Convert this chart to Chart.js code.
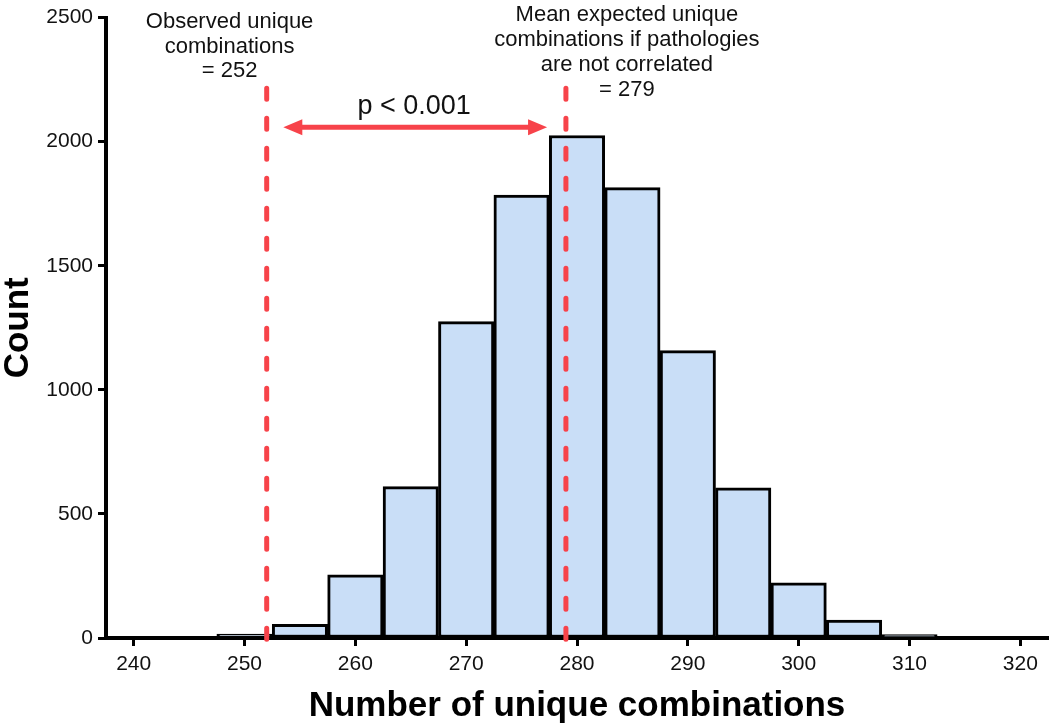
<!DOCTYPE html>
<html>
<head>
<meta charset="utf-8">
<script src="https://cdn.jsdelivr.net/npm/chart.js@4.4.1/dist/chart.umd.min.js"></script>
<style>
  html, body { margin: 0; padding: 0; background: #fff; }
  #wrap { width: 1050px; height: 728px; }
</style>
</head>
<body>
<div id="wrap"><canvas id="chart" width="1050" height="728"></canvas></div>
<script>
// Histogram bins (centre of each 5-wide bin) and counts
const binCenters = [250, 255, 260, 265, 270, 275, 280, 285, 290, 295, 300, 305, 310];
const binCounts = [16, 55, 255, 610, 1275, 1785, 2025, 1815, 1158, 605, 222, 72, 14];

// Axis ticks
const xTicks = [240, 250, 260, 270, 280, 290, 300, 310, 320];
const yTicks = [0, 500, 1000, 1500, 2000, 2500];

// Reference values and their labels
const observedValue = 252;
const expectedValue = 279;
const observedLabel = ['Observed unique', 'combinations', '= 252'];
const expectedLabel = ['Mean expected unique', 'combinations if pathologies', 'are not correlated', '= 279'];
const pLabel = 'p < 0.001';

const FONT = '"Liberation Sans", Arial, Helvetica, sans-serif';
const RED = '#f7434a';

// Draw dashed reference lines, the double arrow and the text labels
const annotations = {
    id: 'annotations',
    afterDatasetsDraw(chart) {
        const { ctx, scales: { x, y } } = chart;
        ctx.save();

        // Dashed vertical lines
        ctx.strokeStyle = RED;
        ctx.lineWidth = 5;
        ctx.lineCap = 'round';
        ctx.setLineDash([11, 19]);
        [observedValue, expectedValue].forEach(v => {
            const px = x.getPixelForValue(v);
            ctx.beginPath();
            ctx.moveTo(px, y.getPixelForValue(2215));
            ctx.lineTo(px, y.getPixelForValue(-30));
            ctx.stroke();
        });

        // Double-headed arrow
        ctx.setLineDash([]);
        ctx.lineCap = 'butt';
        const ay = y.getPixelForValue(2058);
        const x1 = x.getPixelForValue(253.5);
        const x2 = x.getPixelForValue(277.3);
        const head = 19, half = 8;
        ctx.beginPath();
        ctx.moveTo(x1 + head - 2, ay);
        ctx.lineTo(x2 - head + 2, ay);
        ctx.stroke();
        ctx.fillStyle = RED;
        ctx.beginPath();
        ctx.moveTo(x1, ay);
        ctx.lineTo(x1 + head, ay - half);
        ctx.lineTo(x1 + head, ay + half);
        ctx.closePath();
        ctx.fill();
        ctx.beginPath();
        ctx.moveTo(x2, ay);
        ctx.lineTo(x2 - head, ay - half);
        ctx.lineTo(x2 - head, ay + half);
        ctx.closePath();
        ctx.fill();

        // Text
        ctx.fillStyle = '#111';
        ctx.textAlign = 'center';
        ctx.textBaseline = 'alphabetic';
        ctx.font = `27px ${FONT}`;
        ctx.fillText(pLabel, x.getPixelForValue(265.3), y.getPixelForValue(2110));

        ctx.font = `22px ${FONT}`;
        let cx = x.getPixelForValue(248.65);
        let by = y.getPixelForValue(2458);
        observedLabel.forEach((line, i) => ctx.fillText(line, cx, by + i * 24.5));

        cx = x.getPixelForValue(284.5);
        by = y.getPixelForValue(2486);
        expectedLabel.forEach((line, i) => ctx.fillText(line, cx, by + i * 25));

        ctx.restore();
    }
};

const tickFont = { family: FONT, size: 21 };
const titleFont = { family: FONT, size: 35, weight: 'bold', lineHeight: 1 };

new Chart(document.getElementById('chart'), {
    type: 'bar',
    data: {
        datasets: [{
            data: binCenters.map((c, i) => ({ x: c, y: binCounts[i] })),
            backgroundColor: '#c9def7',
            borderColor: '#000',
            borderWidth: 3,
            borderSkipped: false,
            barPercentage: 1,
            categoryPercentage: 1
        }]
    },
    options: {
        responsive: false,
        animation: false,
        layout: { padding: { top: 12, right: 2, left: 0, bottom: 0 } },
        plugins: {
            legend: { display: false },
            tooltip: { enabled: false }
        },
        scales: {
            x: {
                type: 'linear',
                min: 237.5,
                max: 322.5,
                offset: false,
                grid: { display: true, offset: false, drawOnChartArea: false, drawTicks: true, tickLength: 8, tickWidth: 3, tickColor: '#000' },
                border: { display: true, color: '#000', width: 4 },
                afterBuildTicks: s => { s.ticks = xTicks.map(v => ({ value: v })); },
                ticks: { color: '#111', font: tickFont, padding: 6, maxRotation: 0, callback: v => String(v) },
                title: { display: true, text: 'Number of unique combinations', color: '#000', font: titleFont, padding: { top: 0, bottom: 4 } },
                afterFit: s => { s.height = 90; }
            },
            y: {
                min: 0,
                max: 2500,
                grid: { display: true, drawOnChartArea: false, drawTicks: true, tickLength: 8, tickWidth: 3, tickColor: '#000' },
                border: { display: true, color: '#000', width: 4 },
                afterBuildTicks: s => { s.ticks = yTicks.map(v => ({ value: v })); },
                ticks: { color: '#111', font: tickFont, padding: 5, callback: v => String(v) },
                title: { display: true, text: 'Count', color: '#000', font: titleFont, padding: { top: 1, bottom: 0 } },
                afterFit: s => { s.width = 106; }
            }
        }
    },
    plugins: [annotations]
});
</script>
</body>
</html>
